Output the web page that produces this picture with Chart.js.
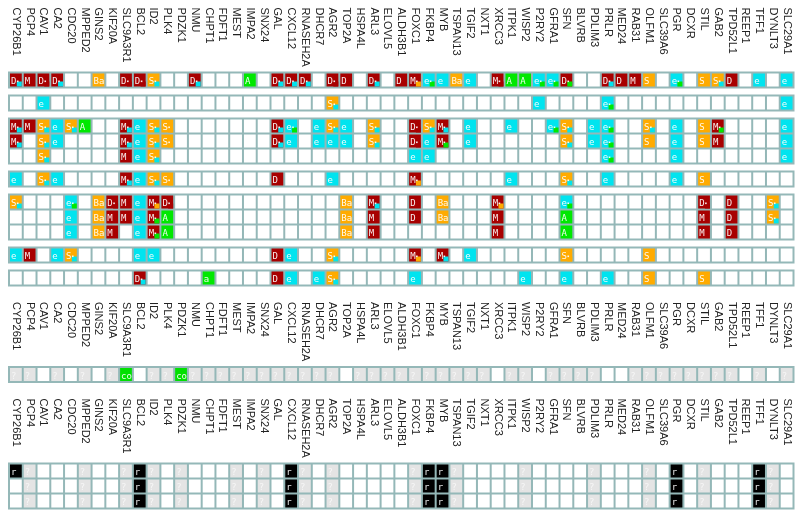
<!DOCTYPE html>
<html>
<head>
<meta charset="utf-8">
<script src="https://cdn.jsdelivr.net/npm/chart.js@4/dist/chart.umd.min.js"></script>
<style>
  html, body { margin: 0; padding: 0; background: #ffffff; }
  #wrap { width: 800px; height: 511px; position: relative; }
</style>
</head>
<body>
<div id="wrap"><canvas id="grid"></canvas></div>
<script>
// Gene columns, left to right
const genes = [
  'CYP26B1','PCP4','CAV1','CA2','CDC20','MPPED2','GINS2','KIF20A','SLC9A3R1','BCL2',
  'ID2','PLK4','PDZK1','NMU','CHPT1','FDFT1','MEST','IMPA2','SNX24','GAL',
  'CXCL12','RNASEH2A','DHCR7','AGR2','TOP2A','HSPA4L','ARL3','ELOVL5','ALDH3B1','FOXC1',
  'FKBP4','MYB','TSPAN13','TGIF2','NXT1','XRCC3','ITPK1','WISP2','P2RY2','GFRA1',
  'SFN','BLVRB','PDLIM3','PRLR','MED24','RAB31','OLFM1','SLC39A6','PGR','DCXR',
  'STIL','GAB2','TPD52L1','REEP1','TFF1','DYNLT3','SLC29A1'
];

// Cell codes per track: "<mark>" or "<mark>:<secondary>" ('' = no call)
// secondary: c = e-type, g = A-type, o = S-type, r = D/M-type
const trackA = [
  'D:c','M','D:r','D:c','','','Ba','','D:r','D:r',
  'S:c','','','D:c','','','','A','','D:c',
  'D:c','D:c','','D:r','D','','D:c','','D','M:o',
  'e:g','e','Ba','e','','M:r','A','A','e:g','e:g',
  'D:g','','','D:c','D','M','S','','e:g','',
  'S','S:c','D','','e','','e'
];
const trackB = [
  '','','e','','','','','','','',
  '','','','','','','','','','',
  '','','','S:c','','','','','','',
  '','','','','','','','','e','',
  '','','','e:g','','','','','','',
  '','','','','','','e'
];
const trackC1 = [
  'M:c','M','S:c','e','S:c','A','','','M:c','e',
  'S:c','S:o','','','','','','','','D:c',
  'e:g','','e','S:c','e','','S:c','','','D:r',
  'S:c','M:c','','e','','','e','','','e:g',
  'S:c','','e','e:g','','','S:c','','e','',
  'S','M:g','','','','','e'
];
const trackC2 = [
  'M:c','','S:c','e','','','','','M:c','e',
  'S:c','S:o','','','','','','','','D:c',
  'e','','e','e','e','','S:c','','','D:r',
  'e','M:g','','e','','','','','','',
  'S:c','','e','e:g','','','S','','e','',
  'S','M','','','','','e'
];
const trackC3 = [
  '','','S:c','','','','','','M','e',
  'S:c','','','','','','','','','',
  '','','','','','','','','','e',
  'e','','','','','','','','','',
  '','','','e:g','','','','','e','',
  '','','','','','','e'
];
const trackD = [
  'e','','S:c','e','','','','','M:c','e',
  'S:c','S:o','','','','','','','','D',
  '','','','e','','','','','','M:o',
  '','','','','','','e','','','',
  'S:c','','','e','','','','','e','',
  'S','','','','','',''
];
const trackE1 = [
  'S:c','','','','e:g','','Ba','D:r','M','e',
  'M:o','D:r','','','','','','','','',
  '','','','','Ba','','M:c','','','D',
  '','Ba','','','','M:o','','','','',
  'e:g','','','','','','','','','',
  'D:r','','D','','','S:c',''
];
const trackE2 = [
  '','','','','e','','Ba','M','M','e',
  'M:g','A','','','','','','','','',
  '','','','','Ba','','M','','','D',
  '','Ba','','','','M','','','','',
  'A','','','','','','','','','',
  'M','','D','','','S:c',''
];
const trackE3 = [
  '','','','','e','','Ba','M','','e',
  'M:g','A','','','','','','','','',
  '','','','','Ba','','M','','','',
  '','','','','','M','','','','',
  'A','','','','','','','','','',
  'M','','D','','','',''
];
const trackF = [
  'e','M','','e','S:c','','','','','e',
  'e','','','','','','','','','D',
  'e','','','S:c','','','','','','M:o',
  '','M:c','','e','','','','','','',
  'S:o','','','','','','S','','','',
  '','','','','','',''
];
const trackG = [
  '','','','','','','','','','D:c',
  '','','','','a','','','','','D',
  'e','','e','S:c','','','','','','e',
  '','','','','','','','e','','',
  'e','','','e','','','S','','','',
  'S','','','','','',''
];
const trackH = [
  '?','?','','?','','?','','?','co','',
  '?','?','co','?','?','?','?','?','?','?',
  '?','?','?','?','','?','?','?','?','?',
  '?','?','?','?','?','','?','?','','?',
  '?','?','?','','','?','?','?','?','?',
  '?','?','?','','?','','?'
];
const trackI1 = [
  'r','?','','','','?','','','?','r',
  '?','','?','','','','?','','?','',
  'r','?','','?','','','','','','?',
  'r','r','?','','','','','?','','',
  '','','?','','','','?','','r','',
  '?','','','','r','?',''
];
const trackI2 = [
  '','?','','','','?','','','?','r',
  '?','','?','','','','?','','?','',
  'r','?','','?','','','','','','?',
  'r','r','?','','','','','?','','',
  '','','?','','','','?','','r','',
  '?','','','','r','?',''
];
const trackI3 = [
  '','?','','','','?','','','?','r',
  '?','','?','','','','?','','?','',
  'r','?','','?','','','','','','?',
  'r','r','?','','','','','?','','',
  '','','?','','','','?','','r','',
  '?','','','','r','?',''
];

// Panel order; 'labels' marks a band of gene names
const panels = [
  [trackA], [trackB], [trackC1, trackC2, trackC3], [trackD],
  [trackE1, trackE2, trackE3], [trackF], [trackG],
  'labels', [trackH], 'labels', [trackI1, trackI2, trackI3]
];

// ---- layout (in y-axis units, which map 1:1 onto the canvas height) ----
const ROW_H = 15, PANEL_GAP = 8, LABEL_OFFSET = 16.5, LABEL_BAND = 81.5;
const rows = [], frames = [], labelStarts = [7.5];
(function buildLayout() {
  let y = 72.5, prevEnd = 0;
  panels.forEach(p => {
    if (p === 'labels') {
      labelStarts.push(prevEnd + LABEL_OFFSET);
      y = prevEnd + LABEL_BAND;
      return;
    }
    frames.push({ top: y, bottom: y + p.length * ROW_H });
    p.forEach(codes => { rows.push({ codes, top: y }); y += ROW_H; });
    prevEnd = y;
    y += PANEL_GAP;
  });
})();

const FRAME = '#95b8b8';
const fills = {
  D: '#a80000', M: '#a80000',
  S: '#ffab00', Ba: '#ffab00',
  e: '#00e4ef',
  A: '#00e800', a: '#00e800', co: '#00e000',
  '?': '#e4e4e4',
  r: '#000000'
};
const cornerFills = { c: '#00e4ef', g: '#00e800', o: '#ffab00', r: '#a80000' };

function parse(code) {
  const [mark, sec] = code.split(':');
  return { mark, sec };
}
function fillFor(code) {
  if (!code) return '#ffffff';
  return fills[parse(code).mark] || '#ffffff';
}

const datasets = rows.map((r, i) => ({
  label: 'track' + i,
  data: genes.map(() => [r.top, r.top + ROW_H]),
  codes: r.codes,
  backgroundColor: r.codes.map(fillFor),
  borderColor: FRAME,
  borderWidth: 1,
  borderSkipped: false,
  inflateAmount: 0,
  barPercentage: 1,
  categoryPercentage: 1,
  grouped: false
}));

// Teal frame behind every panel
const panelFrames = {
  id: 'panelFrames',
  beforeDatasetsDraw(chart) {
    const { ctx, scales: { x, y } } = chart;
    ctx.save();
    ctx.fillStyle = FRAME;
    frames.forEach(f => {
      const t = y.getPixelForValue(f.top), b = y.getPixelForValue(f.bottom);
      ctx.fillRect(x.left - 1, Math.min(t, b) - 1, x.right - x.left + 2, Math.abs(b - t) + 2);
    });
    ctx.restore();
  }
};

// Letters, dots and secondary corners inside the cells
const cellMarks = {
  id: 'cellMarks',
  afterDatasetsDraw(chart) {
    const ctx = chart.ctx;
    ctx.save();
    ctx.font = '9px "DejaVu Sans Mono"';
    ctx.textBaseline = 'alphabetic';
    ctx.textAlign = 'left';
    chart.data.datasets.forEach((ds, di) => {
      const meta = chart.getDatasetMeta(di);
      meta.data.forEach((bar, j) => {
        const code = ds.codes[j];
        if (!code) return;
        const { x, y, base, width } = bar.getProps(['x', 'y', 'base', 'width'], true);
        const left = x - width / 2, right = x + width / 2;
        const top = Math.min(y, base), bottom = Math.max(y, base);
        const { mark, sec } = parse(code);
        if (sec) {
          ctx.fillStyle = cornerFills[sec];
          ctx.fillRect(right - 6, bottom - 6, 5, 5);
        }
        ctx.fillStyle = mark === '?' ? '#f6f6f6' : 'rgba(255,255,255,0.92)';
        ctx.fillText(mark, left + 2, top + 11.5);
        if (sec) {
          const w = ctx.measureText(mark).width;
          ctx.fillRect(left + 2.5 + w, top + 8, 1.6, 1.6);
        }
      });
    });
    ctx.restore();
  }
};

// Gene names, written top to bottom, in each label band
const geneLabels = {
  id: 'geneLabels',
  afterDraw(chart) {
    const { ctx, scales: { x, y } } = chart;
    ctx.save();
    ctx.font = '11px "Liberation Sans", Arial, sans-serif';
    ctx.fillStyle = '#222222';
    ctx.textAlign = 'left';
    ctx.textBaseline = 'middle';
    labelStarts.forEach(start => {
      const py = y.getPixelForValue(start);
      genes.forEach((g, i) => {
        ctx.save();
        ctx.translate(x.getPixelForValue(i), py);
        ctx.rotate(Math.PI / 2);
        ctx.fillText(g, 0, 0);
        ctx.restore();
      });
    });
    ctx.restore();
  }
};

new Chart(document.getElementById('grid'), {
  type: 'bar',
  data: { labels: genes, datasets },
  options: {
    responsive: true,
    maintainAspectRatio: false,
    animation: false,
    events: [],
    layout: { padding: { left: 9, right: 6.5, top: 0, bottom: 0 } },
    scales: {
      x: { type: 'category', display: false, offset: true },
      y: { type: 'linear', display: false, min: 0, max: 511, reverse: true }
    },
    plugins: { legend: { display: false }, tooltip: { enabled: false } }
  },
  plugins: [panelFrames, cellMarks, geneLabels]
});
</script>
</body>
</html>
